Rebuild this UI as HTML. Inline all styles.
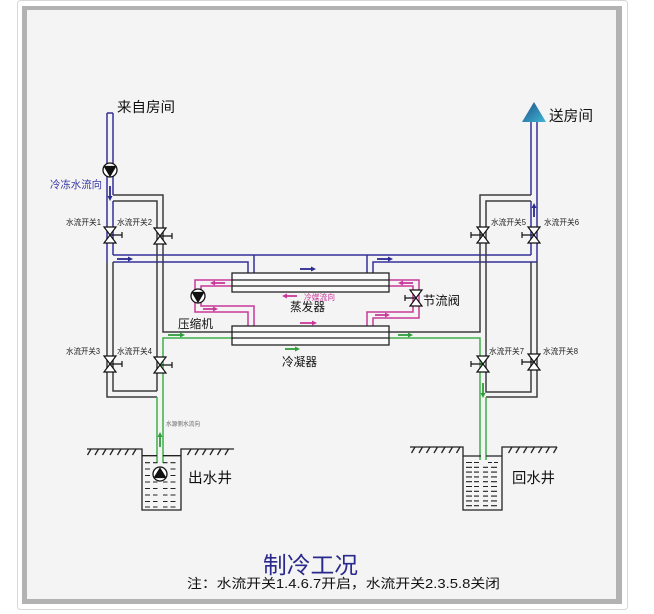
<!DOCTYPE html>
<html><head><meta charset="utf-8">
<style>
html,body{margin:0;padding:0;background:#fff;}
svg{display:block}
text{font-family:"Liberation Sans","Noto Sans CJK SC",sans-serif;}
</style></head>
<body>
<svg width="654" height="614" viewBox="0 0 654 614" xmlns="http://www.w3.org/2000/svg">
<defs>
<linearGradient id="tg" x1="0" y1="0" x2="1" y2="1">
<stop offset="0" stop-color="#1d4f86"/><stop offset="1" stop-color="#3fb6d6"/>
</linearGradient>
</defs>
<!-- frame -->
<rect x="17.5" y="0.5" width="610" height="609" rx="3" fill="#fff" stroke="#d8d8d8"/>
<rect x="22" y="6" width="600" height="598" fill="#b2b2b2"/>
<rect x="27" y="10" width="589" height="589" fill="#f4f4f4"/>

<g fill="none" stroke-width="1.5">
<!-- blue pipes -->
<g stroke="#35309a">
<path d="M107 113 H113"/>
<path d="M107 113 V262"/>
<path d="M113 113 V195 M113 201 V255"/>
<path d="M113 255 H531"/>
<path d="M113 262 H248 V273"/>
<path d="M254 255 V273 M367 255 V273"/>
<path d="M373 273 V262 H537"/>
<path d="M531 122 V195 M531 201 V255"/>
<path d="M537 122 V262"/>
</g>
<!-- gray pipes -->
<g stroke="#3c3c3c">
<path d="M107 262 V397 H157"/>
<path d="M113 262 V391 H157"/>
<path d="M113 195 H163 V332 H232"/>
<path d="M113 201 H157 V391"/>
<path d="M531 195 H480 V332 H389"/>
<path d="M531 201 H486 V392 H531 V262"/>
<path d="M537 262 V397 H486"/>
</g>
<!-- green pipes -->
<g stroke="#3fae4a">
<path d="M232 338 H163 V463"/>
<path d="M157 397 V463"/>
<path d="M389 338 H480 V460"/>
<path d="M486 397 V460"/>
</g>
<!-- refrigerant -->
<g stroke="#c8389a">
<path d="M232 280 H195 V312 H248 V326"/>
<path d="M232 286 H201 V306 H254 V326"/>
<path d="M367 326 V312 H413 V286 H389"/>
<path d="M373 326 V318 H419 V280 H389"/>
</g>
</g>

<!-- evaporator & condenser -->
<g fill="#fafafa" stroke="#222" stroke-width="1.3">
<rect x="232" y="273" width="157" height="19"/>
<rect x="232" y="326" width="157" height="19"/>
</g>
<g stroke="#222" stroke-width="1.2">
<path d="M232 280 H389 M232 286 H389 M232 332 H389 M232 338 H389"/>
</g>

<!-- top triangle -->
<polygon points="534,102 522,122 546,122" fill="url(#tg)"/>

<!-- pumps -->
<g stroke="#111" stroke-width="1.3">
<circle cx="110" cy="170" r="7" fill="#fff"/>
<polygon points="104.5,166.5 115.5,166.5 110,176" fill="#111"/>
<circle cx="198" cy="296" r="7" fill="#fff"/>
<polygon points="192.5,292.5 203.5,292.5 198,302" fill="#111"/>
</g>

<!-- valves -->
<g stroke="#111" stroke-width="1.2" fill="#fff">
<g transform="translate(110,235)"><path d="M0 0 H12 M12 -3 V3" fill="none"/><path d="M-6 -8 H6 L0 0Z M-6 8 H6 L0 0Z"/></g>
<g transform="translate(160,236)"><path d="M0 0 H12 M12 -3 V3" fill="none"/><path d="M-6 -8 H6 L0 0Z M-6 8 H6 L0 0Z"/></g>
<g transform="translate(110,364)"><path d="M0 0 H12 M12 -3 V3" fill="none"/><path d="M-6 -8 H6 L0 0Z M-6 8 H6 L0 0Z"/></g>
<g transform="translate(160,365)"><path d="M0 0 H12 M12 -3 V3" fill="none"/><path d="M-6 -8 H6 L0 0Z M-6 8 H6 L0 0Z"/></g>
<g transform="translate(483,235)"><path d="M0 0 H-12 M-12 -3 V3" fill="none"/><path d="M-6 -8 H6 L0 0Z M-6 8 H6 L0 0Z"/></g>
<g transform="translate(534,235)"><path d="M0 0 H-12 M-12 -3 V3" fill="none"/><path d="M-6 -8 H6 L0 0Z M-6 8 H6 L0 0Z"/></g>
<g transform="translate(483,364)"><path d="M0 0 H-12 M-12 -3 V3" fill="none"/><path d="M-6 -8 H6 L0 0Z M-6 8 H6 L0 0Z"/></g>
<g transform="translate(534,362)"><path d="M0 0 H-12 M-12 -3 V3" fill="none"/><path d="M-6 -8 H6 L0 0Z M-6 8 H6 L0 0Z"/></g>
<g transform="translate(416,298)"><path d="M0 0 H-11 M-11 -3 V3" fill="none"/><path d="M-6 -8 H6 L0 0Z M-6 8 H6 L0 0Z"/></g>
</g>

<!-- arrows -->
<g stroke-width="1.8">
<g stroke="#2a2a90" fill="#2a2a90">
<path d="M117 259 H129" fill="none"/><path d="M133 259 L128 256.5 L128 261.5Z" stroke="none"/>
<path d="M300 269 H312" fill="none"/><path d="M316 269 L311 266.5 L311 271.5Z" stroke="none"/>
<path d="M377 259 H389" fill="none"/><path d="M393 259 L388 256.5 L388 261.5Z" stroke="none"/>
<path d="M110 186 V197" fill="none"/><path d="M110 201 L107.5 196 L112.5 196Z" stroke="none"/>
<path d="M534 217 V207" fill="none"/><path d="M534 203 L531.5 208 L536.5 208Z" stroke="none"/>
</g>
<g stroke="#c8389a" fill="#c8389a">
<path d="M225 283 H214" fill="none"/><path d="M210 283 L215 280.5 L215 285.5Z" stroke="none"/>
<path d="M203 309 H214" fill="none"/><path d="M218 309 L213 306.5 L213 311.5Z" stroke="none"/>
<path d="M297 296 H286" fill="none"/><path d="M282 296 L287 293.5 L287 298.5Z" stroke="none"/>
<path d="M300 323 H313" fill="none"/><path d="M317 323 L312 320.5 L312 325.5Z" stroke="none"/>
<path d="M375 315 H386" fill="none"/><path d="M390 315 L385 312.5 L385 317.5Z" stroke="none"/>
<path d="M413 283 H402" fill="none"/><path d="M398 283 L403 280.5 L403 285.5Z" stroke="none"/>
</g>
<g stroke="#2e9e3c" fill="#2e9e3c">
<path d="M168 335 H181" fill="none"/><path d="M185 335 L180 332.5 L180 337.5Z" stroke="none"/>
<path d="M398 335 H409" fill="none"/><path d="M413 335 L408 332.5 L408 337.5Z" stroke="none"/>
<path d="M285 349 H296" fill="none"/><path d="M300 349 L295 346.5 L295 351.5Z" stroke="none"/>
<path d="M160 447 V436" fill="none"/><path d="M160 432 L157.5 437 L162.5 437Z" stroke="none"/>
<path d="M483 383 V394" fill="none"/><path d="M483 398 L480.5 393 L485.5 393Z" stroke="none"/>
</g>
</g>

<!-- wells -->
<g stroke="#222" stroke-width="1.3" fill="none">
<path d="M87 449 H142 V510 H181 V449 H234"/>
<path d="M142 455.7 H157 M163 455.7 H181"/>
<path d="M410 447 H463 V510 H502 V447 H557"/>
<path d="M463 456 H481 M486 456 H502"/>
<path d="M91 449 L87.5 455 M98.5 449 L95 455 M106 449 L102.5 455 M113.5 449 L110 455 M121 449 L117.5 455 M128.5 449 L125 455 M136 449 L132.5 455"/>
<path d="M191 449 L187.5 455 M198.5 449 L195 455 M206 449 L202.5 455 M213.5 449 L210 455 M221 449 L217.5 455 M228.5 449 L225 455"/>
<path d="M415 447 L411.5 453 M422.5 447 L419 453 M430 447 L426.5 453 M437.5 447 L434 453 M445 447 L441.5 453 M452.5 447 L449 453 M460 447 L456.5 453"/>
<path d="M512 447 L508.5 453 M519.5 447 L516 453 M527 447 L523.5 453 M534.5 447 L531 453 M542 447 L538.5 453 M549.5 447 L546 453 M557 447 L553.5 453"/>
</g>
<g stroke="#222" stroke-width="1.1">
<path d="M145 462.7 H150 M153 462.7 H157.5 M163 462.7 H167.5 M170.5 462.7 H175.5
M145 469 H150 M170.5 469 H175.5
M145 475.5 H150 M170.5 475.5 H175.5
M145 482 H150 M153 482 H157.5 M163 482 H167.5 M170.5 482 H175.5
M145 488.5 H150 M153 488.5 H157.5 M163 488.5 H167.5 M170.5 488.5 H175.5
M145 495 H150 M153 495 H157.5 M163 495 H167.5 M170.5 495 H175.5
M145 501.5 H150 M153 501.5 H157.5 M163 501.5 H167.5 M170.5 501.5 H175.5
M145 507 H150 M153 507 H157.5 M163 507 H167.5 M170.5 507 H175.5"/>
<path d="M466 462.5 H472 M474 462.5 H479 M488 462.5 H492 M494 462.5 H498
M466 467.3 H472 M474 467.3 H479 M483 467.3 H488 M491 467.3 H497
M466 472.1 H472 M474 472.1 H479 M483 472.1 H488 M491 472.1 H497
M466 476.9 H472 M474 476.9 H479 M483 476.9 H488 M491 476.9 H497
M466 481.7 H472 M474 481.7 H479 M483 481.7 H488 M491 481.7 H497
M466 486.5 H472 M474 486.5 H479 M483 486.5 H488 M491 486.5 H497
M466 491.3 H472 M474 491.3 H479 M483 491.3 H488 M491 491.3 H497
M466 496.1 H472 M474 496.1 H479 M483 496.1 H488 M491 496.1 H497
M466 500.9 H472 M474 500.9 H479 M483 500.9 H488 M491 500.9 H497
M466 505.7 H472 M474 505.7 H479 M483 505.7 H488 M491 505.7 H497"/>
</g>
<g stroke="#111" stroke-width="1.3">
<circle cx="160" cy="474" r="7" fill="#fff"/>
<polygon points="160,468.5 154.5,477.5 165.5,477.5" fill="#111"/>
</g>

<!-- labels -->
<g fill="#111">
<text x="117" y="112" font-size="14" textLength="58" lengthAdjust="spacingAndGlyphs">来自房间</text>
<text x="549" y="121" font-size="14.5" textLength="44" lengthAdjust="spacingAndGlyphs">送房间</text>
<text x="50" y="188" font-size="10.5" fill="#3a3aa8" textLength="52" lengthAdjust="spacingAndGlyphs">冷冻水流向</text>
<g font-size="8" fill="#222">
<text x="66" y="225" textLength="35" lengthAdjust="spacingAndGlyphs">水流开关1</text>
<text x="117" y="225" textLength="35" lengthAdjust="spacingAndGlyphs">水流开关2</text>
<text x="66" y="354" textLength="34" lengthAdjust="spacingAndGlyphs">水流开关3</text>
<text x="117" y="354" textLength="35" lengthAdjust="spacingAndGlyphs">水流开关4</text>
<text x="491" y="225" textLength="35" lengthAdjust="spacingAndGlyphs">水流开关5</text>
<text x="544" y="225" textLength="35" lengthAdjust="spacingAndGlyphs">水流开关6</text>
<text x="489" y="354" textLength="35" lengthAdjust="spacingAndGlyphs">水流开关7</text>
<text x="543" y="354" textLength="35" lengthAdjust="spacingAndGlyphs">水流开关8</text>
</g>
<text x="178" y="328" font-size="12" textLength="35" lengthAdjust="spacingAndGlyphs">压缩机</text>
<text x="290" y="311" font-size="12" textLength="35" lengthAdjust="spacingAndGlyphs">蒸发器</text>
<text x="282" y="366" font-size="12" textLength="35" lengthAdjust="spacingAndGlyphs">冷凝器</text>
<text x="423" y="305" font-size="12.5" textLength="37" lengthAdjust="spacingAndGlyphs">节流阀</text>
<text x="304" y="300" font-size="8" fill="#c8389a" textLength="31" lengthAdjust="spacingAndGlyphs">冷媒流向</text>
<text x="166" y="426" font-size="6" fill="#666" textLength="34" lengthAdjust="spacingAndGlyphs">水源侧水流向</text>
<text x="188" y="483" font-size="14.5" textLength="44" lengthAdjust="spacingAndGlyphs">出水井</text>
<text x="512" y="483" font-size="14.5" textLength="43" lengthAdjust="spacingAndGlyphs">回水井</text>
<text x="263" y="573" font-size="23" fill="#2a2a8c" textLength="95" lengthAdjust="spacingAndGlyphs">制冷工况</text>
<text x="187" y="588" font-size="13" textLength="313" lengthAdjust="spacingAndGlyphs">注：水流开关1.4.6.7开启，水流开关2.3.5.8关闭</text>
</g>
</svg>
</body></html>
